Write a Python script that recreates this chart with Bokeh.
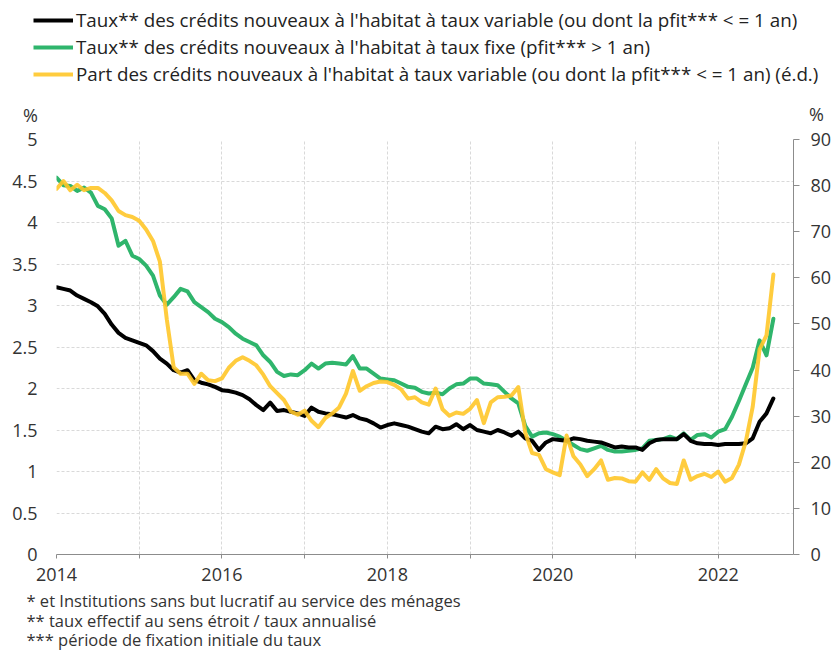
from bokeh.plotting import figure
from bokeh.layouts import column
from bokeh.models import (Range1d, LinearAxis, FixedTicker, Legend, LegendItem,
                          Label, NumeralTickFormatter)
from bokeh.embed import file_html
from bokeh.resources import INLINE

# ---- data (monthly, Jan 2014 .. Sep 2022) ----
start_year = 2014
n_months = 105
dates = [start_year + m / 12 for m in range(n_months)]

taux_variable = [
    3.22, 3.20, 3.18, 3.12, 3.08, 3.04, 2.99, 2.90, 2.77, 2.67, 2.61, 2.58,
    2.55, 2.52, 2.45, 2.36, 2.30, 2.22, 2.19, 2.22, 2.10, 2.07, 2.05, 2.02,
    1.98, 1.97, 1.95, 1.92, 1.87, 1.80, 1.74, 1.83, 1.73, 1.74, 1.72, 1.70,
    1.67, 1.77, 1.72, 1.70, 1.69, 1.67, 1.65, 1.68, 1.64, 1.62, 1.58, 1.53,
    1.56, 1.58, 1.56, 1.54, 1.51, 1.48, 1.46, 1.54, 1.51, 1.52, 1.57, 1.51,
    1.56, 1.50, 1.48, 1.46, 1.50, 1.47, 1.43, 1.48, 1.40, 1.37, 1.26, 1.35,
    1.39, 1.38, 1.37, 1.40, 1.39, 1.37, 1.36, 1.35, 1.32, 1.29, 1.30, 1.29,
    1.29, 1.26, 1.34, 1.38, 1.39, 1.39, 1.39, 1.45, 1.37, 1.34, 1.33, 1.33,
    1.32, 1.33, 1.33, 1.33, 1.34, 1.40, 1.60, 1.70, 1.88,
]

taux_fixe = [
    4.54, 4.45, 4.44, 4.38, 4.42, 4.36, 4.20, 4.16, 4.05, 3.72, 3.78, 3.60,
    3.56, 3.48, 3.36, 3.12, 3.01, 3.10, 3.20, 3.17, 3.04, 2.98, 2.92, 2.84,
    2.80, 2.74, 2.66, 2.60, 2.56, 2.52, 2.40, 2.32, 2.20, 2.15, 2.17, 2.16,
    2.22, 2.30, 2.24, 2.30, 2.31, 2.30, 2.29, 2.39, 2.24, 2.24, 2.18, 2.12,
    2.11, 2.10, 2.06, 2.02, 2.01, 1.96, 1.94, 1.95, 1.93, 2.00, 2.05, 2.06,
    2.12, 2.12, 2.06, 2.05, 2.04, 1.96, 1.88, 1.82, 1.55, 1.42, 1.46, 1.47,
    1.45, 1.42, 1.37, 1.32, 1.27, 1.25, 1.28, 1.31, 1.26, 1.24, 1.24, 1.25,
    1.26, 1.28, 1.37, 1.38, 1.39, 1.42, 1.39, 1.46, 1.38, 1.44, 1.45, 1.41,
    1.48, 1.51, 1.66, 1.85, 2.05, 2.25, 2.58, 2.40, 2.84,
]

part_variable = [
    79.3, 81.0, 79.0, 80.2, 79.0, 79.5, 79.5, 78.4, 76.8, 74.5, 73.6, 73.2,
    72.4, 70.5, 68.0, 63.5, 51.0, 40.6, 39.2, 39.2, 37.0, 39.2, 37.8, 37.6,
    38.2, 40.5, 42.0, 42.8, 42.0, 41.0, 39.0, 36.5, 35.0, 33.5, 31.0, 30.3,
    31.2, 29.0, 27.6, 29.6, 30.6, 31.9, 34.9, 39.8, 35.5, 36.5, 37.2, 37.5,
    37.4, 36.8, 35.8, 33.8, 34.1, 33.0, 32.5, 36.0, 31.5, 30.1, 30.8, 30.5,
    31.6, 33.5, 28.5, 33.0, 34.1, 34.2, 34.5, 36.3, 26.5, 22.0, 21.6, 18.5,
    17.8, 17.2, 25.8, 21.3, 19.5, 17.0, 18.5, 20.4, 16.2, 16.6, 16.5, 15.9,
    15.8, 17.8, 16.2, 18.5, 16.5, 15.5, 15.3, 20.4, 16.2, 17.0, 17.5, 16.8,
    18.0, 15.8, 16.6, 19.5, 24.5, 32.0, 44.5, 47.5, 60.7,
]

series_labels = [
    "Taux** des crédits nouveaux à l'habitat à taux variable (ou dont la pfit*** < = 1 an)",
    "Taux** des crédits nouveaux à l'habitat à taux fixe (pfit*** > 1 an)",
    "Part des crédits nouveaux à l'habitat à taux variable (ou dont la pfit*** < = 1 an) (é.d.)",
]
year_ticks = [2014, 2015, 2016, 2017, 2018, 2019, 2020, 2021, 2022]
left_ticks = [0, 0.5, 1, 1.5, 2, 2.5, 3, 3.5, 4, 4.5, 5]
right_ticks = [0, 10, 20, 30, 40, 50, 60, 70, 80, 90]
unit_label = "%"
footnotes = [
    "* et Institutions sans but lucratif au service des ménages",
    "** taux effectif au sens étroit / taux annualisé",
    "*** période de fixation initiale du taux",
]

FONT = "Open Sans"
TXT = "#333333"
GRID = "#d9d9d9"
AXIS = "#8c8c8c"
BLACK = "#000000"
GREEN = "#2fb56c"
YELLOW = "#ffc629"
W = 834
LW = 4


def blank_fig(h):
    f = figure(width=W, height=h, output_backend="svg", toolbar_location=None,
               x_range=Range1d(0, W), y_range=Range1d(0, h),
               x_axis_location=None, y_axis_location=None, min_border=0,
               background_fill_color="white", border_fill_color="white",
               frame_align=False)
    f.outline_line_color = None
    f.grid.visible = False
    return f


# ---------------- top: legend + units ----------------
top_h = 127
top = blank_fig(top_h)
off = [-1000, -990]
d_black = top.line(off, off, line_color=BLACK, line_width=LW)
d_green = top.line(off, off, line_color=GREEN, line_width=LW)
d_yellow = top.line(off, off, line_color=YELLOW, line_width=LW, line_alpha=0.9)
legend = Legend(items=[LegendItem(label=series_labels[0], renderers=[d_black]),
                       LegendItem(label=series_labels[1], renderers=[d_green]),
                       LegendItem(label=series_labels[2], renderers=[d_yellow])],
                location=(33, 40), orientation="vertical",
                border_line_color=None, background_fill_alpha=0,
                padding=0, margin=0, spacing=1, glyph_width=40, glyph_height=20,
                label_height=20, label_standoff=3,
                label_text_font=FONT, label_text_font_size="18.8px",
                label_text_color="#222222")
top.add_layout(legend, "center")
top.add_layout(Label(x=30, y=top_h - 114, text=unit_label, text_align="center",
                     text_baseline="middle", text_font=FONT,
                     text_font_size="18px", text_color=TXT))
top.add_layout(Label(x=816, y=top_h - 113, text=unit_label, text_align="center",
                     text_baseline="middle", text_font=FONT,
                     text_font_size="18px", text_color=TXT))

# ---------------- main chart ----------------
p = figure(width=W, height=461, output_backend="svg", toolbar_location=None,
           x_range=Range1d(2014, 2022.91), y_range=Range1d(0, 5),
           min_border_left=56, min_border_right=40, min_border_top=12,
           min_border_bottom=34, background_fill_color="white",
           border_fill_color="white", frame_align=False)
p.outline_line_color = None
p.extra_y_ranges = {"right": Range1d(0, 90)}

p.xgrid.ticker = FixedTicker(ticks=year_ticks)
p.ygrid.ticker = FixedTicker(ticks=left_ticks)
for g in (p.xgrid, p.ygrid):
    g.grid_line_color = GRID
    g.grid_line_dash = "3 2"
    g.grid_line_width = 1

xa = p.xaxis[0]
xa.ticker = FixedTicker(ticks=year_ticks)
xa.major_label_overrides = {y: (str(y) if y % 2 == 0 else "") for y in year_ticks}
xa.axis_line_color = AXIS
xa.major_tick_line_color = AXIS
xa.major_tick_out = 4
xa.major_tick_in = 0
xa.minor_tick_line_color = None
xa.major_label_standoff = 9
xa.major_label_text_font = FONT
xa.major_label_text_font_size = "18px"
xa.major_label_text_color = TXT

ya = p.yaxis[0]
ya.ticker = FixedTicker(ticks=left_ticks)
ya.formatter = NumeralTickFormatter(format="0.[0]")
ya.axis_line_color = None
ya.major_tick_line_color = None
ya.major_tick_out = 0
ya.major_tick_in = 0
ya.minor_tick_line_color = None
ya.major_label_standoff = 19
ya.major_label_text_font = FONT
ya.major_label_text_font_size = "18px"
ya.major_label_text_color = TXT

ra = LinearAxis(y_range_name="right", ticker=FixedTicker(ticks=right_ticks))
ra.axis_line_color = AXIS
ra.major_tick_line_color = AXIS
ra.major_tick_out = 6
ra.major_tick_in = 0
ra.minor_tick_line_color = None
ra.major_label_standoff = 11
ra.axis_label_standoff = 0
ra.major_label_text_font = FONT
ra.major_label_text_font_size = "18px"
ra.major_label_text_color = TXT
p.add_layout(ra, "right")

p.line(dates, taux_fixe, line_color=GREEN, line_width=LW,
       line_join="round", line_cap="round")
p.line(dates, taux_variable, line_color=BLACK, line_width=LW,
       line_join="round", line_cap="round")
p.line(dates, part_variable, y_range_name="right", line_color=YELLOW,
       line_width=LW, line_alpha=0.9, line_join="round", line_cap="round")

# ---------------- bottom: footnotes ----------------
bot_h = 62
bot = blank_fig(bot_h)
for txt, yy in zip(footnotes, [11.5, 31.5, 50.5]):
    bot.add_layout(Label(x=26, y=bot_h - yy, text=txt, text_align="left",
                         text_baseline="middle", text_font=FONT,
                         text_font_size="16.5px", text_color=TXT))

layout = column(top, p, bot, spacing=0)
open("out.html", "w").write(file_html(layout, INLINE))
